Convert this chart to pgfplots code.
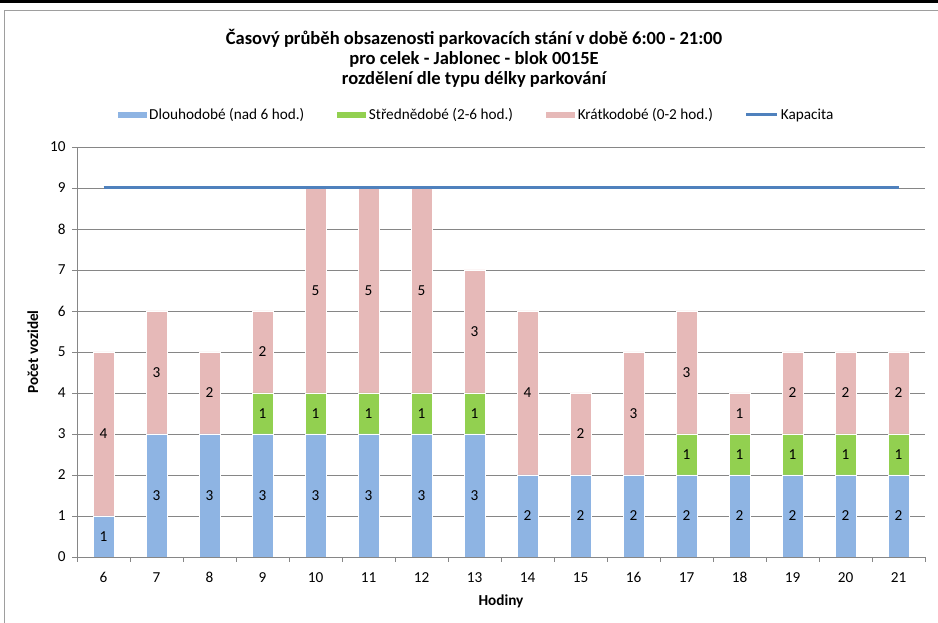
\documentclass[border=0pt]{standalone}
\usepackage{pgfplots}
\pgfplotsset{compat=1.18}
\usepackage{pgfplotstable}
\usepackage{fontspec}
\setmainfont{Carlito}
\definecolor{cblue}{RGB}{142,180,227}
\definecolor{cgreen}{RGB}{146,208,80}
\definecolor{cpink}{RGB}{230,185,184}
\definecolor{cline}{RGB}{79,129,189}
\definecolor{cgrid}{RGB}{134,134,134}
\pgfplotstableread{
h long mid short
6 1 0 4
7 3 0 3
8 3 0 2
9 3 1 2
10 3 1 5
11 3 1 5
12 3 1 5
13 3 1 3
14 2 0 4
15 2 0 2
16 2 0 3
17 2 1 3
18 2 1 1
19 2 1 2
20 2 1 2
21 2 1 2
}\data
\pgfplotsset{
  common/.style={
    scale only axis, width=848bp, height=410bp,
    at={(77bp,66bp)}, anchor=south west,
    xmin=5.5, xmax=21.5, ymin=0, ymax=10,
  }
}
\begin{document}
\begin{tikzpicture}[x=1bp,y=1bp]
\useasboundingbox (0,0) rectangle (938,623);
\fill[black] (0,620) rectangle (938,623);
\draw[cgrid!80, line width=0.8bp] (4.5,-10) -- (4.5,613) -- (960,613);
\node[align=center, font=\fontsize{18.6}{20}\selectfont\bfseries] at (474,565)
  {Časový průběh obsazenosti parkovacích stání v době 6:00 - 21:00\\
   pro celek - Jablonec - blok 0015E\\
   rozdělení dle typu délky parkování};
\begin{axis}[common,
  ybar stacked, bar width=21bp,
  font=\fontsize{15.3}{18}\selectfont,
  /pgf/number format/assume math mode=true,
  axis x line*=bottom, axis y line*=left,
  axis line style={cgrid, line width=0.8bp},
  xtick={6,...,21}, major x tick style={draw=none},
  minor xtick={5.5,6.5,...,21.5},
  ytick={0,...,10},
  tick align=outside,
  major tick length=5bp, minor tick length=5bp,
  tick style={cgrid, line width=0.8bp},
  ymajorgrids, grid style={cgrid, line width=0.8bp},
  xticklabel style={yshift=-7bp},
  yticklabel style={xshift=-3bp},
  xlabel={\bfseries Hodiny}, ylabel={\bfseries Počet vozidel},
  xlabel style={at={(axis description cs:0.5,-0.107)}, anchor=center},
  ylabel style={at={(axis description cs:-0.052,0.5)}, anchor=center},
  legend style={at={(399bp,442bp)}, anchor=center, draw=none, fill=none,
    legend columns=4, font=\fontsize{15.3}{18}\selectfont,
    /tikz/every even column/.append style={column sep=30bp}},
  legend cell align=left,
  legend image code/.code={\fill[#1] (0bp,-3.5bp) rectangle (30bp,4bp);},
]
\addplot[fill=cblue, draw=white, line width=0.6bp] table[x=h,y=long] {\data};
\addlegendentry{Dlouhodobé (nad 6 hod.)}
\addplot[fill=cgreen, draw=white, line width=0.6bp] table[x=h,y=mid] {\data};
\addlegendentry{Střednědobé (2-6 hod.)}
\addplot[fill=cpink, draw=white, line width=0.6bp] table[x=h,y=short] {\data};
\addlegendentry{Krátkodobé (0-2 hod.)}
\addlegendimage{legend image code/.code={\draw[cline, line width=3bp] (0bp,0bp) -- (31bp,0bp);}}
\addlegendentry{Kapacita}
\end{axis}
\begin{axis}[common, hide axis, font=\fontsize{15.3}{18}\selectfont]
\addplot[cline, line width=3bp] coordinates {(6,9) (21,9)};
\addplot[only marks, mark=none, nodes near coords, nodes near coords align=center,
  point meta=explicit symbolic] coordinates {
(6,0.5)[1] (7,1.5)[3] (8,1.5)[3] (9,1.5)[3] (10,1.5)[3] (11,1.5)[3] (12,1.5)[3] (13,1.5)[3]
(14,1)[2] (15,1)[2] (16,1)[2] (17,1)[2] (18,1)[2] (19,1)[2] (20,1)[2] (21,1)[2]
(9,3.5)[1] (10,3.5)[1] (11,3.5)[1] (12,3.5)[1] (13,3.5)[1]
(17,2.5)[1] (18,2.5)[1] (19,2.5)[1] (20,2.5)[1] (21,2.5)[1]
(6,3)[4] (7,4.5)[3] (8,4)[2] (9,5)[2] (10,6.5)[5] (11,6.5)[5] (12,6.5)[5] (13,5.5)[3]
(14,4)[4] (15,3)[2] (16,3.5)[3] (17,4.5)[3] (18,3.5)[1] (19,4)[2] (20,4)[2] (21,4)[2]
};
\end{axis}
\end{tikzpicture}
\end{document}
